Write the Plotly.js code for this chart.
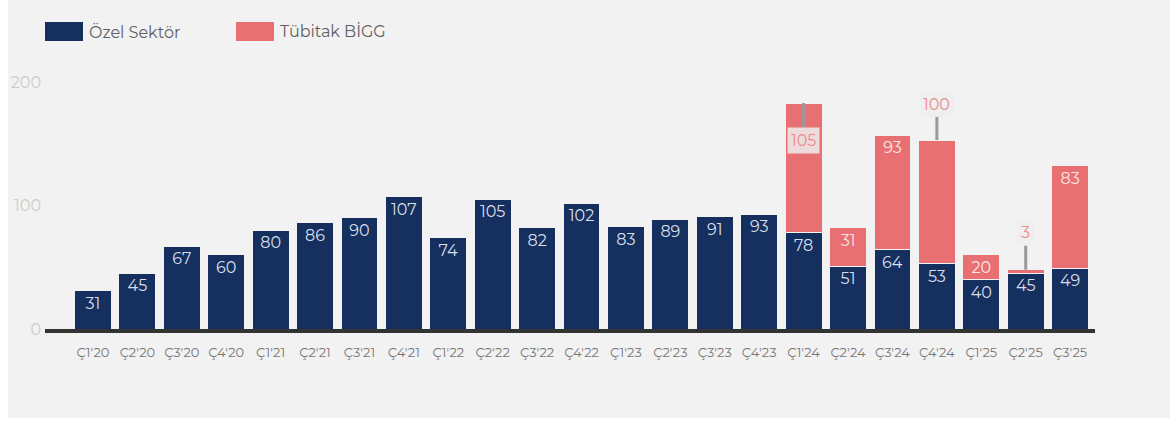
<!DOCTYPE html>
<html>
<head>
<meta charset="utf-8">
<script src="https://cdn.plot.ly/plotly-3.0.1.min.js"></script>
<style>
  html, body { margin: 0; padding: 0; background: #ffffff; }
  #chart { position: absolute; left: 8px; top: 0; width: 1162px; height: 418px; }
</style>
</head>
<body>
<div id="chart"></div>
<script>
const categories = ["Ç1'20","Ç2'20","Ç3'20","Ç4'20","Ç1'21","Ç2'21","Ç3'21","Ç4'21","Ç1'22","Ç2'22","Ç3'22","Ç4'22","Ç1'23","Ç2'23","Ç3'23","Ç4'23","Ç1'24","Ç2'24","Ç3'24","Ç4'24","Ç1'25","Ç2'25","Ç3'25"];
const ozelSektor = [31,45,67,60,80,86,90,107,74,105,82,102,83,89,91,93,78,51,64,53,40,45,49];
const tubitakBigg = [null,null,null,null,null,null,null,null,null,null,null,null,null,null,null,null,105,31,93,100,20,3,83];
const seriesNames = ["Özel Sektör", "Tübitak BİGG"];
const yTicks = [0, 100, 200];
// labels of the Tübitak series that are drawn with a leader line
const calloutCategories = ["Ç1'24", "Ç4'24", "Ç2'25"];

const NAVY = '#15305f';
const PINK = '#e86f72';
const FONT = 'Montserrat, "DejaVu Sans", sans-serif';

const calloutSet = new Set(calloutCategories);

const traces = [
  {
    type: 'bar', name: seriesNames[0], x: categories, y: ozelSektor,
    marker: { color: NAVY, line: { color: '#f2f2f2', width: 1 } },
    text: ozelSektor.map(v => String(v)),
    textposition: 'inside', insidetextanchor: 'end', constraintext: 'none', textangle: 0,
    textfont: { family: FONT, size: 16, color: '#d9dfea' },
    hoverinfo: 'x+y', cliponaxis: false
  },
  {
    type: 'bar', name: seriesNames[1], x: categories, y: tubitakBigg,
    marker: { color: PINK, line: { color: '#f2f2f2', width: 1 } },
    text: tubitakBigg.map((v, i) => (v == null || calloutSet.has(categories[i])) ? '' : String(v)),
    textposition: 'inside', insidetextanchor: 'end', constraintext: 'none', textangle: 0,
    textfont: { family: FONT, size: 16, color: '#fbe6e6' },
    hoverinfo: 'x+y', cliponaxis: false
  }
];

// leader-line callouts (offset in pixels from the bar top)
const calloutOffsets = { "Ç1'24": 37, "Ç4'24": -36, "Ç2'25": -37 };
const annotations = categories.map((c, i) => {
  if (!calloutSet.has(c)) return null;
  const top = ozelSektor[i] + tubitakBigg[i];
  return {
    x: c, y: top, xref: 'x', yref: 'y',
    text: String(tubitakBigg[i]),
    showarrow: true, arrowhead: 0, arrowwidth: 3, arrowcolor: '#9a9a9a',
    ax: 0, ay: calloutOffsets[c], standoff: 0, startstandoff: 0,
    font: { family: FONT, size: 16, color: '#ec8a8c' },
    bgcolor: 'rgba(238,238,238,0.85)', borderpad: 3
  };
}).filter(a => a);

// custom legend (wide swatches)
const W = 1050, H = 247, L = 37, B = 329;
const px = p => (p - L) / W;
const py = p => (B - p) / H;
const legendX = [45 - 8, 236 - 8];
const shapes = [];
seriesNames.forEach((n, k) => {
  shapes.push({
    type: 'rect', xref: 'paper', yref: 'paper',
    x0: px(legendX[k]), x1: px(legendX[k] + 38), y0: py(41), y1: py(22),
    fillcolor: k === 0 ? NAVY : PINK, line: { width: 0 }
  });
  annotations.push({
    xref: 'paper', yref: 'paper', x: px(legendX[k] + 42), y: py(31.5),
    xanchor: 'left', yanchor: 'middle', showarrow: false, text: n,
    font: { family: FONT, size: 16, color: '#5f5f5f' }
  });
});

const layout = {
  width: 1162, height: 418,
  margin: { l: 37, r: 75, t: 82, b: 89 },
  paper_bgcolor: '#f2f2f2', plot_bgcolor: '#f2f2f2',
  barmode: 'stack', bargap: 0.17,
  showlegend: false,
  font: { family: FONT },
  xaxis: {
    type: 'category', range: [-1.08, 22.56],
    showgrid: false, zeroline: false,
    showline: true, linecolor: '#333333', linewidth: 4,
    ticks: '', tickangle: 0, ticklabelstandoff: 8,
    tickfont: { family: FONT, size: 13, color: '#777777' }
  },
  yaxis: {
    range: [0, 200], tickvals: yTicks, ticktext: yTicks.map(String),
    showgrid: false, zeroline: false, showline: false, ticks: '',
    ticklabelstandoff: 3,
    tickfont: { family: FONT, size: 16, color: '#cccccc' }
  },
  uniformtext: { minsize: 16, mode: 'show' },
  annotations: annotations,
  shapes: shapes
};

Plotly.newPlot('chart', traces, layout, { displayModeBar: false, staticPlot: true });
</script>
</body>
</html>
